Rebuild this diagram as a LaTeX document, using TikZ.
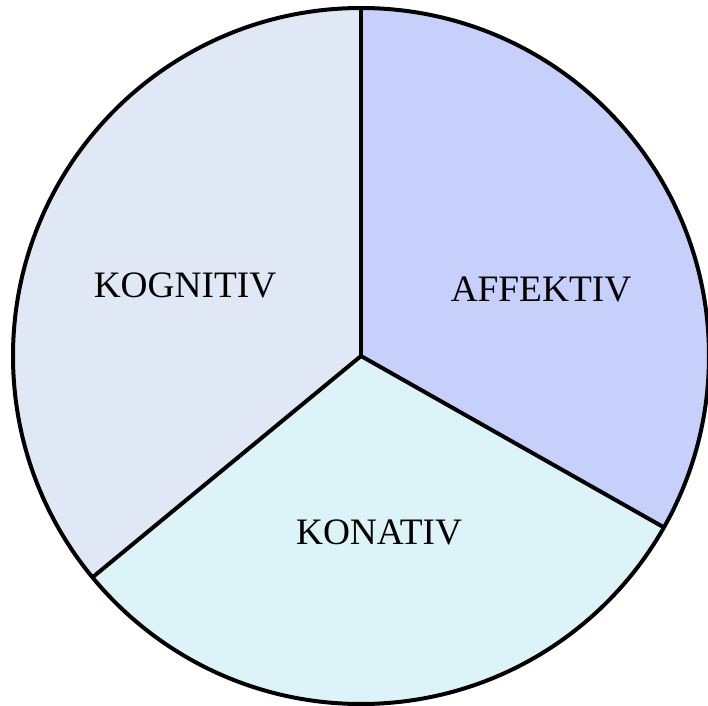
\documentclass[tikz,border=0pt]{standalone}
\usepackage{fontspec}
\setmainfont{Liberation Serif}
\usetikzlibrary{calc}
\definecolor{colKog}{RGB}{223,232,244}
\definecolor{colAff}{RGB}{198,208,250}
\definecolor{colKon}{RGB}{220,243,248}
\begin{document}
\begin{tikzpicture}[x=0.75pt,y=-0.75pt,
  border/.style={line width=3pt,black},
  lbl/.style={font=\fontsize{28}{30}\selectfont,inner sep=0pt}]
\useasboundingbox (0,0) rectangle (708,706);
\coordinate (c) at (361,356);
\coordinate (pt) at ($(c)+(-90:348)$);
\coordinate (pr) at ($(c)+(29.5:348)$);
\coordinate (pl) at ($(c)+(140.5:348)$);
\fill[colKog] (c) -- (pt) arc[start angle=-90,end angle=-219.5,radius=348] -- cycle;
\fill[colAff] (c) -- (pt) arc[start angle=-90,end angle=29.5,radius=348] -- cycle;
\fill[colKon] (c) -- (pr) arc[start angle=29.5,end angle=140.5,radius=348] -- cycle;
\draw[border] (c) circle[radius=348];
\draw[border] (c) -- (pt);
\draw[border] (c) -- (pr);
\draw[border] (c) -- (pl);
\node[lbl] (kog) at (185,285) {KOGNITIV};
\node[lbl] (aff) at (541,289) {AFFEKTIV};
\node[lbl] (kon) at (379,532) {KONATIV};
\end{tikzpicture}
\end{document}
